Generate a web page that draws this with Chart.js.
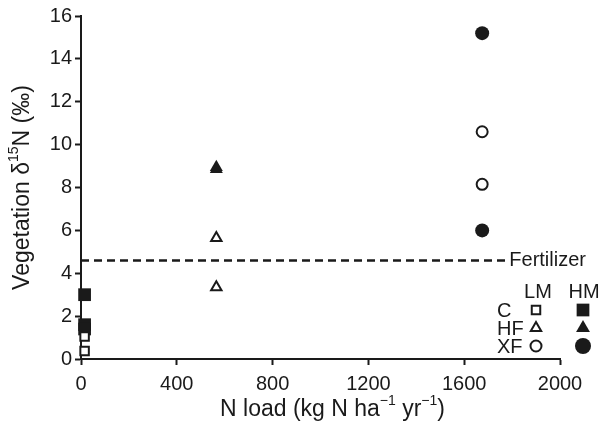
<!DOCTYPE html>
<html>
<head>
<meta charset="utf-8">
<script src="https://cdn.jsdelivr.net/npm/chart.js@4"></script>
<style>
  html, body { margin: 0; padding: 0; background: #fff; }
  #wrap { width: 613px; height: 434px; }
</style>
</head>
<body>
<div id="wrap"><canvas id="myChart"></canvas></div>
<script>
// N load of each treatment (kg N ha-1 yr-1)
const loadC = 15;
const loadHF = 565;
const loadXF = 1675;

// vegetation d15N values, LM = low marsh, HM = high marsh
const cLM = [1.05, 0.37];
const cHM = [3.0, 1.6, 1.4];
const hfLM = [5.65, 3.35];
const hfHM = [8.85, 8.95];
const xfLM = [10.6, 8.15];
const xfHM = [15.2, 6.0];

// fertilizer reference line
const fertilizerValue = 4.6;
const fertilizerLine = [0, 1780];

const ink = '#1a1a1a';
const font = '"Liberation Sans", Arial, sans-serif';

const pts = (x, ys) => ys.map(y => ({ x: x, y: y }));

function markerSet(label, data, style, filled, r) {
    return {
        label: label,
        data: data,
        showLine: false,
        pointStyle: style,
        pointRadius: r,
        pointHoverRadius: r,
        pointBackgroundColor: filled ? ink : '#fff',
        pointBorderColor: ink,
        pointBorderWidth: filled ? 0 : 2,
        clip: false
    };
}

// draws a run of [text, isSuperscript] pieces starting at x
function drawRich(ctx, parts, x, y, size) {
    parts.forEach(p => {
        const s = p[1] ? Math.round(size * 0.62) : size;
        ctx.font = s + 'px ' + font;
        ctx.fillText(p[0], x, p[1] ? y - size * 0.38 : y);
        x += ctx.measureText(p[0]).width;
    });
    return x;
}
function richWidth(ctx, parts, size) {
    let w = 0;
    parts.forEach(p => {
        ctx.font = (p[1] ? Math.round(size * 0.62) : size) + 'px ' + font;
        w += ctx.measureText(p[0]).width;
    });
    return w;
}

// axis titles with real superscripts, plus legend block in the plot corner
const textPlugin = {
    id: 'markLegend',
    afterDraw(chart) {
        const ctx = chart.ctx;
        const xs = chart.scales.x, ys = chart.scales.y;
        const area = chart.chartArea;
        ctx.save();
        ctx.fillStyle = ink;
        ctx.textBaseline = 'middle';
        ctx.textAlign = 'left';

        // x title
        const xt = [['N load (kg N ha', false], ['\u22121', true], [' yr', false], ['\u22121', true], [')', false]];
        const tsz = 23;
        let w = richWidth(ctx, xt, tsz);
        drawRich(ctx, xt, (area.left + area.right) / 2 - w / 2 + 12, 410, tsz);

        // y title
        const yt = [['Vegetation \u03B4', false], ['15', true], ['N (\u2030)', false]];
        w = richWidth(ctx, yt, tsz);
        ctx.save();
        ctx.translate(23, (area.top + area.bottom) / 2);
        ctx.rotate(-Math.PI / 2);
        drawRich(ctx, yt, -w / 2, 0, tsz);
        ctx.restore();

        ctx.font = '20px ' + font;
        ctx.fillText('Fertilizer', xs.getPixelForValue(fertilizerLine[1]) + 2, ys.getPixelForValue(fertilizerValue));

        ctx.textAlign = 'center';
        ctx.fillText('LM', 538, 292);
        ctx.fillText('HM', 584, 292);
        ctx.textAlign = 'left';
        const rows = [
            ['C', 'rect', 310, 8, 6],
            ['HF', 'triangle', 328, 7, 6],
            ['XF', 'circle', 346, 7, 5.5]
        ];
        rows.forEach(r => {
            ctx.fillStyle = ink;
            ctx.fillText(r[0], 497, r[2] + 1);
            // open marker
            ctx.fillStyle = '#fff';
            ctx.strokeStyle = ink;
            ctx.lineWidth = 2;
            Chart.helpers.drawPoint(ctx, { pointStyle: r[1], radius: r[4], rotation: 0, borderWidth: 2 }, 536, r[2]);
            // filled marker
            ctx.fillStyle = ink;
            Chart.helpers.drawPoint(ctx, { pointStyle: r[1], radius: r[3] + 1, rotation: 0, borderWidth: 0 }, 583, r[2]);
        });
        ctx.restore();
    }
};

const ctx = document.getElementById('myChart').getContext('2d');

const myChart = new Chart(ctx, {
    type: 'scatter',
    data: {
        datasets: [
            {
                label: 'Fertilizer',
                data: fertilizerLine.map(x => ({ x: x, y: fertilizerValue })),
                showLine: true,
                borderColor: ink,
                borderWidth: 2.5,
                borderDash: [8, 5],
                pointRadius: 0,
                fill: false
            },
            markerSet('C LM', pts(loadC, cLM), 'rect', false, 6),
            markerSet('C HM', pts(loadC, cHM), 'rect', true, 9),
            markerSet('HF LM', pts(loadHF, hfLM), 'triangle', false, 6),
            markerSet('HF HM', pts(loadHF, hfHM), 'triangle', true, 7.5),
            markerSet('XF LM', pts(loadXF, xfLM), 'circle', false, 5.5),
            markerSet('XF HM', pts(loadXF, xfHM), 'circle', true, 7)
        ]
    },
    options: {
        responsive: true,
        maintainAspectRatio: false,
        animation: false,
        layout: { padding: { top: 16, right: 53, left: 0, bottom: 0 } },
        plugins: {
            legend: { display: false },
            tooltip: { enabled: false }
        },
        scales: {
            x: {
                type: 'linear',
                min: 0,
                max: 2000,
                afterFit: s => { s.height = 75; },
                ticks: {
                    stepSize: 400,
                    color: ink,
                    padding: 7,
                    font: { family: font, size: 20 },
                    callback: v => String(v)
                },
                grid: { drawOnChartArea: false, drawTicks: true, tickLength: 6, tickColor: ink, tickWidth: 2 },
                border: { display: true, color: ink, width: 2 }
            },
            y: {
                min: 0,
                max: 16,
                afterFit: s => { s.width = 81; },
                ticks: { stepSize: 2, color: ink, padding: 3, font: { family: font, size: 20 } },
                grid: { drawOnChartArea: false, drawTicks: true, tickLength: 6, tickColor: ink, tickWidth: 2 },
                border: { display: true, color: ink, width: 2 }
            }
        }
    },
    plugins: [textPlugin]
});
</script>
</body>
</html>
